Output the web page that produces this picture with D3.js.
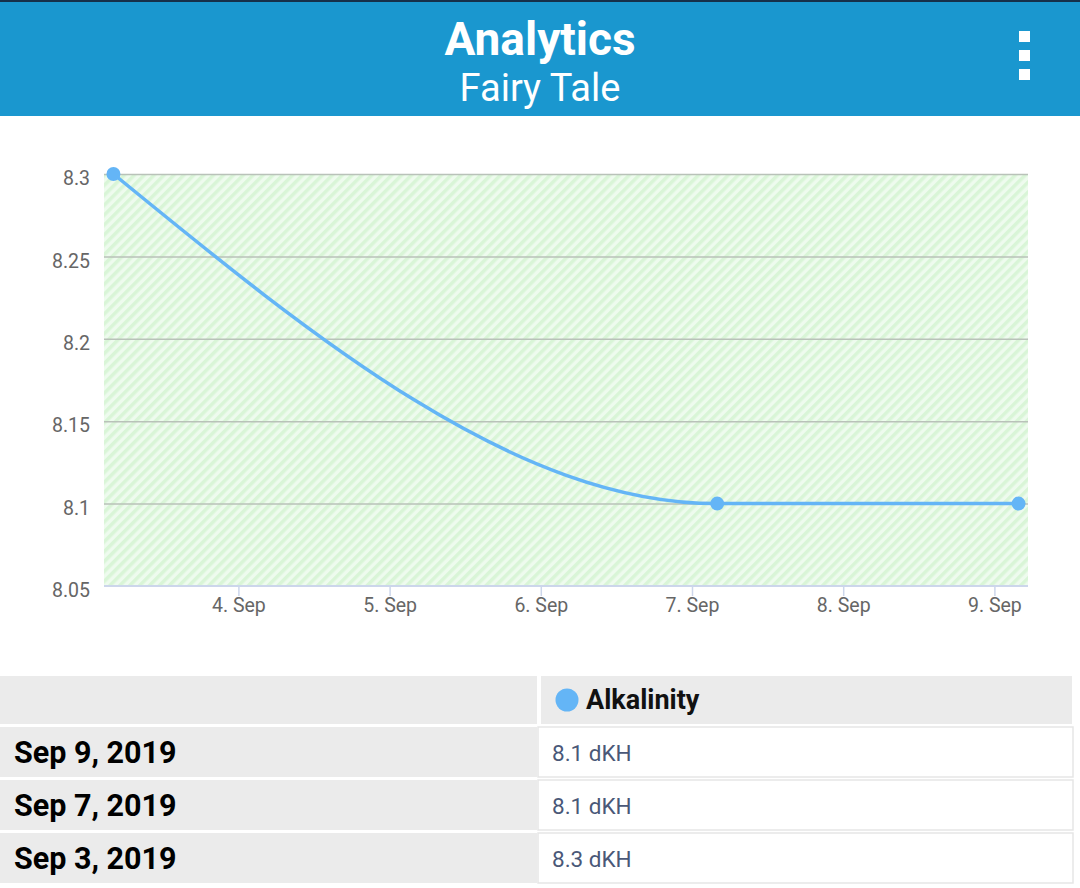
<!DOCTYPE html>
<html>
<head>
<meta charset="utf-8">
<script src="https://cdn.jsdelivr.net/npm/d3@7"></script>
<style>
  html, body { margin: 0; padding: 0; background: #fff; }
  body { width: 1080px; height: 888px; overflow: hidden; font-family: Roboto, "Noto Sans", sans-serif; }
</style>
</head>
<body>
<svg id="chart" width="1080" height="888"></svg>
<script>
// ---- data ----
const appTitle = "Analytics";
const appSubtitle = "Fairy Tale";
const seriesName = "Alkalinity";
const unit = "dKH";
const dates = ["2019-09-03T04:10", "2019-09-07T04:00", "2019-09-09T03:50"];
const values = [8.3, 8.1, 8.1];
const yTicks = [8.05, 8.1, 8.15, 8.2, 8.25, 8.3];
const xTickDates = ["2019-09-04", "2019-09-05", "2019-09-06", "2019-09-07", "2019-09-08", "2019-09-09"];
const tableDates = ["Sep 9, 2019", "Sep 7, 2019", "Sep 3, 2019"];
const tableValues = [8.1, 8.1, 8.3];

const parse = d3.timeParse("%Y-%m-%dT%H:%M");
const parseDay = d3.timeParse("%Y-%m-%d");
const points = dates.map((d, i) => ({ t: parse(d), v: values[i] }));

const svg = d3.select("#chart");

// ---- header ----
svg.append("rect").attr("x", 0).attr("y", 0).attr("width", 1080).attr("height", 116).attr("fill", "#1a97cf");
svg.append("rect").attr("x", 0).attr("y", 0).attr("width", 1080).attr("height", 2).attr("fill", "#16304a");
svg.append("text").attr("x", 540).attr("y", 55).attr("text-anchor", "middle")
  .attr("fill", "#fff").attr("font-size", 46).attr("font-weight", "bold").text(appTitle);
svg.append("text").attr("x", 540).attr("y", 101).attr("text-anchor", "middle")
  .attr("fill", "#fff").attr("font-size", 38).text(appSubtitle);
[31, 50, 69].forEach(y => {
  svg.append("rect").attr("x", 1019).attr("y", y).attr("width", 11).attr("height", 11).attr("fill", "#fff");
});

// ---- chart ----
const x = d3.scaleTime()
  .domain([parse("2019-09-03T02:40"), parse("2019-09-09T05:20")])
  .range([104, 1028]);
const y = d3.scaleLinear().domain([8.05, 8.3]).range([586, 174]);

const defs = svg.append("defs");
const pat = defs.append("pattern").attr("id", "hatch")
  .attr("patternUnits", "userSpaceOnUse").attr("width", 7).attr("height", 7)
  .attr("patternTransform", "rotate(45)");
pat.append("rect").attr("width", 7).attr("height", 7).attr("fill", "#eefbee");
pat.append("rect").attr("width", 3.5).attr("height", 7).attr("fill", "#d9f5d7");

svg.append("rect")
  .attr("x", x.range()[0]).attr("y", y(8.3))
  .attr("width", x.range()[1] - x.range()[0]).attr("height", y(8.05) - y(8.3))
  .attr("fill", "url(#hatch)");

// gridlines + y labels
const yAxis = d3.axisLeft(y).tickValues(yTicks).tickSize(-(x.range()[1] - x.range()[0])).tickPadding(14)
  .tickFormat(d => d3.format("")(+d.toFixed(2)));
const gy = svg.append("g").attr("transform", `translate(${x.range()[0]},0)`).call(yAxis);
gy.select(".domain").remove();
gy.selectAll(".tick line").attr("stroke", "#b9c2b9").attr("stroke-width", 1.5)
  .filter(d => d === 8.05).remove();
gy.selectAll(".tick text").attr("fill", "#666").attr("font-size", 19.5).attr("font-family", "Roboto, sans-serif")
  .attr("x", -14).attr("dy", "0.55em");

// x axis
const xAxis = d3.axisBottom(x).tickValues(xTickDates.map(parseDay)).tickSize(10).tickPadding(2)
  .tickFormat(d3.timeFormat("%-d. %b"));
const gx = svg.append("g").attr("transform", `translate(0,${y(8.05)})`).call(xAxis);
gx.select(".domain").attr("stroke", "#ccd6eb").attr("stroke-width", 2)
  .attr("d", `M${x.range()[0]},0H${x.range()[1]}`);
gx.selectAll(".tick line").attr("stroke", "#ccd6eb").attr("stroke-width", 1.5);
gx.selectAll(".tick text").attr("fill", "#666").attr("font-size", 19.5).attr("font-family", "Roboto, sans-serif");

// line
const line = d3.line().x(d => x(d.t)).y(d => y(d.v)).curve(d3.curveMonotoneX);
svg.append("path").datum(points).attr("d", line)
  .attr("fill", "none").attr("stroke", "#64b5f6").attr("stroke-width", 3.5);
svg.selectAll(".pt").data(points).enter().append("circle")
  .attr("cx", d => x(d.t)).attr("cy", d => y(d.v)).attr("r", 7).attr("fill", "#64b5f6");

// ---- table ----
const leftW = 537, rightX = 541, rightW = 531;
const headerTop = 676, headerH = 48;
svg.append("rect").attr("x", 0).attr("y", headerTop).attr("width", leftW).attr("height", headerH).attr("fill", "#ebebeb");
svg.append("rect").attr("x", rightX).attr("y", headerTop).attr("width", rightW).attr("height", headerH).attr("fill", "#ebebeb");
svg.append("circle").attr("cx", 567).attr("cy", 700).attr("r", 11.5).attr("fill", "#64b5f6");
svg.append("text").attr("x", 586).attr("y", 709).attr("font-size", 27).attr("font-weight", "bold")
  .attr("fill", "#111").text(seriesName);

const rowH = 50, rowGap = 3, firstRow = 727;
tableDates.forEach((d, i) => {
  const ry = firstRow + i * (rowH + rowGap);
  svg.append("rect").attr("x", 0).attr("y", ry).attr("width", leftW).attr("height", rowH).attr("fill", "#ebebeb");
  svg.append("rect").attr("x", rightX - 3).attr("y", ry).attr("width", rightW + 4).attr("height", rowH)
    .attr("fill", "#fff").attr("stroke", "#e6e6e6").attr("stroke-width", 1.5);
  svg.append("text").attr("x", 14).attr("y", ry + 36).attr("font-size", 30.5).attr("font-weight", "bold")
    .attr("fill", "#000").text(d);
  svg.append("text").attr("x", 552).attr("y", ry + 34).attr("font-size", 22.5)
    .attr("fill", "#4a5878").text(`${tableValues[i]} ${unit}`);
});
</script>
</body>
</html>
